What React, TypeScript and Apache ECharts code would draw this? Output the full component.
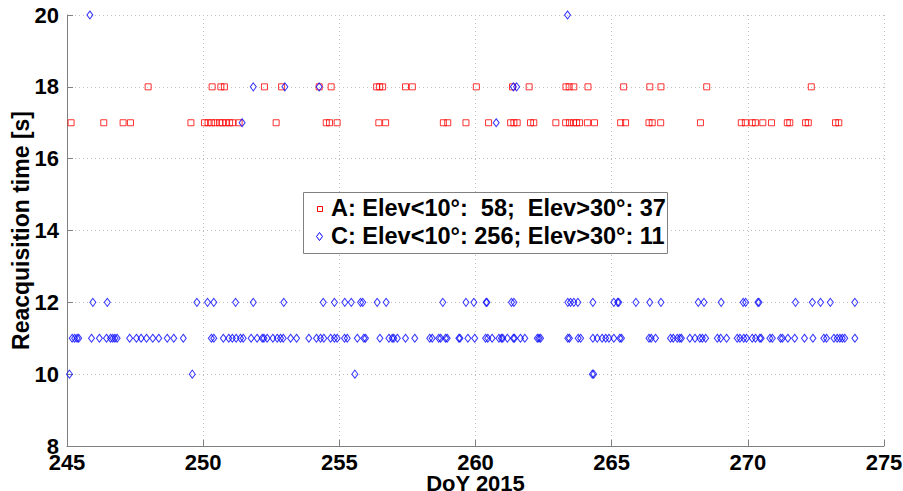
import React, { useEffect, useRef } from "react";
import * as echarts from "echarts";

const xTicks = [245, 250, 255, 260, 265, 270, 275];
const yTicks = [8, 10, 12, 14, 16, 18, 20];

// Series A (red squares)
const aAt18 = [247.98, 250.33, 250.65, 250.78, 252.25, 252.88, 254.26, 254.7, 256.37, 256.48, 256.59, 257.43, 257.68, 260.03, 261.36, 261.97, 263.32, 263.44, 263.61, 264.13, 265.44, 266.4, 266.81, 268.49, 272.33];
const aAt17 = [245.15, 246.35, 247.06, 247.33, 249.55, 250.05, 250.18, 250.31, 250.44, 250.6, 250.71, 250.84, 250.97, 251.08, 251.32, 252.68, 254.52, 254.64, 254.92, 256.45, 256.7, 258.82, 258.98, 259.65, 260.48, 261.29, 261.41, 261.53, 262.02, 262.14, 262.95, 263.31, 263.45, 263.6, 263.71, 263.82, 264.11, 264.37, 265.33, 265.51, 266.37, 266.49, 266.8, 268.26, 269.76, 269.91, 270.16, 270.28, 270.55, 270.87, 271.45, 271.54, 272.12, 272.22, 273.22, 273.34];

// Series C (blue diamonds)
const cAt20 = [245.84, 263.38];
const cAt18 = [251.84, 253.0, 254.26, 261.39, 261.51];
const cAt17 = [251.43, 260.76];
const cAt12 = [245.95, 246.48, 249.77, 250.16, 250.39, 251.19, 251.84, 252.96, 254.41, 254.82, 255.2, 255.44, 255.78, 255.86, 256.39, 256.72, 258.8, 259.65, 259.94, 260.39, 260.42, 261.32, 261.41, 263.39, 263.49, 263.61, 263.76, 264.31, 265.08, 265.22, 265.26, 265.89, 266.4, 266.81, 268.18, 268.39, 269.02, 269.83, 269.92, 270.37, 270.41, 271.75, 272.37, 272.67, 273.03, 273.93];
const cAt11 = [245.19, 245.28, 245.37, 245.43, 245.9, 246.19, 246.45, 246.6, 246.68, 246.76, 246.84, 247.3, 247.55, 247.72, 247.92, 248.15, 248.37, 248.68, 248.92, 249.27, 250.3, 250.39, 250.74, 250.94, 251.07, 251.21, 251.37, 251.47, 251.76, 251.98, 252.17, 252.23, 252.35, 252.56, 252.72, 252.84, 252.94, 253.21, 253.43, 253.88, 254.16, 254.31, 254.43, 254.68, 254.82, 254.92, 255.19, 255.29, 255.66, 255.9, 255.96, 256.49, 256.82, 256.94, 257.0, 257.13, 257.43, 257.77, 258.32, 258.41, 258.65, 258.72, 258.9, 258.96, 259.39, 259.43, 259.72, 259.97, 260.37, 260.45, 260.61, 260.86, 260.95, 261.0, 261.17, 261.39, 261.43, 261.65, 261.81, 262.27, 262.33, 262.39, 263.39, 263.45, 263.77, 263.86, 264.31, 264.47, 264.65, 264.78, 264.9, 265.08, 265.3, 265.36, 266.37, 266.45, 266.61, 267.16, 267.26, 267.41, 267.5, 267.56, 267.87, 268.06, 268.24, 268.33, 268.45, 268.88, 269.0, 269.22, 269.61, 269.71, 269.85, 269.95, 270.16, 270.28, 270.44, 270.49, 270.81, 270.9, 271.2, 271.27, 271.47, 271.72, 272.08, 272.39, 272.79, 272.89, 273.16, 273.28, 273.38, 273.47, 273.56, 273.93];
const cAt10 = [245.09, 249.6, 255.57, 264.29, 264.34];

const legendA = "A: Elev<10°:  58;  Elev>30°: 37";
const legendC = "C: Elev<10°: 256; Elev>30°: 11";

const FONT = "'Liberation Sans', Arial, sans-serif";

function toPoints(xs: number[], y: number) {
  return xs.map((x) => [x, y]);
}

export default function App() {
  const ref = useRef<HTMLDivElement>(null);
  useEffect(() => {
    document.body.style.margin = "0";
    document.body.style.overflow = "hidden";
    if (!ref.current) return;
    const chart = echarts.init(ref.current, undefined, { renderer: "svg" });
    const aData = [...toPoints(aAt18, 18), ...toPoints(aAt17, 17)];
    const cData = [
      ...toPoints(cAt20, 20),
      ...toPoints(cAt18, 18),
      ...toPoints(cAt17, 17),
      ...toPoints(cAt12, 12),
      ...toPoints(cAt11, 11),
      ...toPoints(cAt10, 10),
    ];
    const legX = 303;
    const legY = 192;
    chart.setOption({
      animation: false,
      backgroundColor: "#ffffff",
      grid: { left: 67, right: 19, top: 15, bottom: 45, containLabel: false, outerBoundsMode: "none" },
      xAxis: {
        type: "value",
        min: 245,
        max: 275,
        interval: 5,
        name: "DoY 2015",
        nameLocation: "middle",
        nameGap: 26,
        nameMoveOverlap: false,
        nameTextStyle: { fontFamily: FONT, fontWeight: "bold", fontSize: 22, color: "#000", verticalAlign: "top" },
        axisLine: { show: true, lineStyle: { color: "#808080", width: 1 } },
        axisTick: { show: true, inside: true, length: 6, lineStyle: { color: "#808080" } },
        axisLabel: { fontFamily: FONT, fontWeight: "bold", fontSize: 22, color: "#000", margin: 5, formatter: (v: number) => String(v) },
        splitLine: { show: true, lineStyle: { color: "#c0c0c0", type: [1, 3], width: 1 } },
      },
      yAxis: {
        type: "value",
        min: 8,
        max: 20,
        interval: 2,
        name: "Reacquisition time [s]",
        nameLocation: "middle",
        nameGap: 35,
        nameMoveOverlap: false,
        nameTextStyle: { fontFamily: FONT, fontWeight: "bold", fontSize: 23, color: "#000" },
        axisLine: { show: true, lineStyle: { color: "#808080", width: 1 } },
        axisTick: { show: true, inside: true, length: 6, lineStyle: { color: "#808080" } },
        axisLabel: { fontFamily: FONT, fontWeight: "bold", fontSize: 22, color: "#000", margin: 8 },
        splitLine: { show: true, lineStyle: { color: "#c0c0c0", type: [1, 3], width: 1 } },
      },
      series: [
        {
          type: "scatter",
          name: "A",
          data: aData,
          symbol: "rect",
          symbolSize: 6,
          itemStyle: { color: "transparent", borderColor: "#ff0000", borderWidth: 1 },
          z: 2,
        },
        {
          type: "scatter",
          name: "C",
          data: cData,
          symbol: "diamond",
          symbolSize: [6, 8],
          itemStyle: { color: "transparent", borderColor: "#0000ff", borderWidth: 1 },
          z: 3,
        },
      ],
      graphic: [
        {
          type: "rect",
          left: legX,
          top: legY,
          shape: { width: 364, height: 61 },
          style: { fill: "#ffffff", stroke: "#808080", lineWidth: 1 },
          z: 100,
        },
        {
          type: "rect",
          left: legX + 14,
          top: legY + 14,
          shape: { width: 5, height: 5 },
          style: { fill: "transparent", stroke: "#ff0000", lineWidth: 1 },
          z: 101,
        },
        {
          type: "polygon",
          shape: { points: [[legX + 16.5, legY + 40.5], [legX + 19.5, legY + 44.5], [legX + 16.5, legY + 48.5], [legX + 13.5, legY + 44.5]] },
          style: { fill: "transparent", stroke: "#0000ff", lineWidth: 1 },
          z: 101,
        },
        {
          type: "text",
          left: legX + 28,
          top: legY + 4,
          style: { text: legendA, font: `bold 23.5px ${FONT}`, fill: "#000" },
          z: 101,
        },
        {
          type: "text",
          left: legX + 28,
          top: legY + 32,
          style: { text: legendC, font: `bold 23.5px ${FONT}`, fill: "#000" },
          z: 101,
        },
      ],
    });
    return () => chart.dispose();
  }, []);
  return <div ref={ref} style={{ width: 903, height: 491 }} />;
}
